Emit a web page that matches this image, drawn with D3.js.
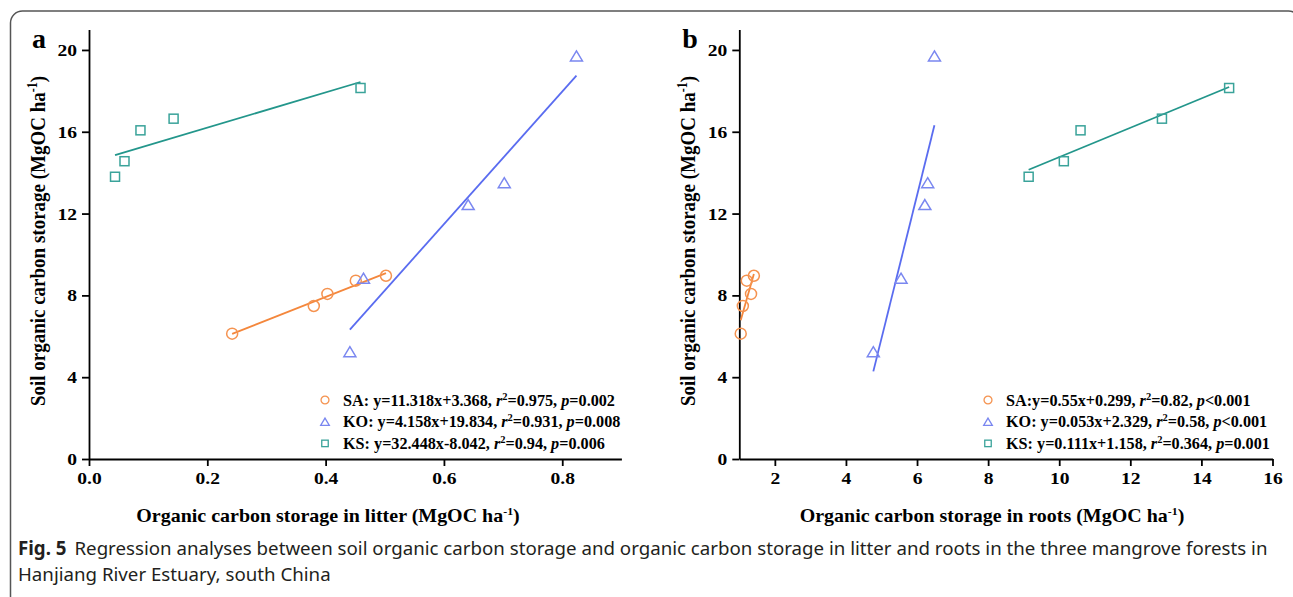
<!DOCTYPE html>
<html>
<head>
<meta charset="utf-8">
<script src="https://cdn.jsdelivr.net/npm/d3@7"></script>
<style>
  body { margin: 0; background: #fff; }
  svg { display: block; }
  .axis path, .axis line { stroke: #000; stroke-width: 1.8; }
  .axis text { font-family: "Liberation Serif", "Times New Roman", serif; font-weight: bold; font-size: 17px; fill: #000; }
  .ttl { font-family: "Liberation Serif", "Times New Roman", serif; font-weight: bold; fill: #000; }
  .leg { font-family: "Liberation Serif", "Times New Roman", serif; font-weight: bold; font-size: 16.2px; fill: #000; }
  .cap { font-family: "Noto Sans", "Open Sans", sans-serif; font-size: 18.7px; fill: #231f20; }
</style>
</head>
<body>
<svg width="1293" height="597"></svg>
<script>
// soil organic C storage (same plots in both panels)
const soilSA = [6.13, 7.48, 8.07, 8.72, 8.96]
const soilKO = [5.25, 8.84, 12.44, 13.51, 19.71]
const soilKS = [13.80, 14.56, 16.07, 16.64, 18.14]
// litter organic C storage
const litterSA = [0.242, 0.380, 0.403, 0.451, 0.502]
const litterKO = [0.441, 0.464, 0.641, 0.702, 0.824]
const litterKS = [0.044, 0.060, 0.087, 0.143, 0.459]
// root organic C storage
const rootSA = [1.04, 1.10, 1.33, 1.21, 1.41]
const rootKO = [4.77, 5.55, 6.22, 6.30, 6.49]
const rootKS = [9.14, 10.13, 10.60, 12.89, 14.78]

const sites = ['SA', 'KO', 'KS']
const yTicks = [0, 4, 8, 12, 16, 20]
const xTicksA = [0, 0.2, 0.4, 0.6, 0.8]
const xTicksB = [2, 4, 6, 8, 10, 12, 14, 16]
const legendA = [
  ['SA: y=11.318x+3.368, ', '0.975', '=0.002'],
  ['KO: y=4.158x+19.834, ', '0.931', '=0.008'],
  ['KS: y=32.448x-8.042, ', '0.94', '=0.006']
]
const legendB = [
  ['SA:y=0.55x+0.299, ', '0.82', '<0.001'],
  ['KO: y=0.053x+2.329, ', '0.58', '<0.001'],
  ['KS: y=0.111x+1.158, ', '0.364', '=0.001']
]

const colors = { SA: '#f4873c', KO: '#5a6cf0', KS: '#23968b' }
const markColors = { SA: '#f59350', KO: '#7a87f0', KS: '#3aa39a' }
const stretch = 1.15   // tick lettering is a little wide
const titleStretch = 1.08

const svg = d3.select('svg')

// figure frame
svg.append('rect')
  .attr('x', 10.5).attr('y', 11).attr('width', 1290).attr('height', 600)
  .attr('rx', 12)
  .attr('fill', 'none').attr('stroke', '#555').attr('stroke-width', 1.5)

const y = d3.scaleLinear().domain([0, 21]).range([459, 29.5])

function fit(xs, ys) {
  const mx = d3.mean(xs), my = d3.mean(ys)
  const b = d3.sum(xs, (v, i) => (v - mx) * (ys[i] - my)) / d3.sum(xs, v => (v - mx) ** 2)
  return v => my + b * (v - mx)
}

function marker(sel, site, s) {
  if (site == 'SA') return sel.append('circle').attr('r', 5.5 * s)
  if (site == 'KO') return sel.append('path').attr('d', `M0,${-5 * s}L${6 * s},${5 * s}L${-6 * s},${5 * s}Z`)
  return sel.append('rect').attr('x', -4.5 * s).attr('y', -4.5 * s).attr('width', 9 * s).attr('height', 9 * s)
}

function panel(opts) {
  const x = d3.scaleLinear().domain(opts.xDomain).range(opts.xRange)
  const g = svg.append('g')

  const xa = g.append('g').attr('class', 'axis')
    .attr('transform', 'translate(0,459)')
    .call(d3.axisBottom(x).tickValues(opts.xTicks).tickSize(7).tickSizeOuter(0).tickPadding(6)
      .tickFormat(opts.xFormat))
  xa.selectAll('text').attr('transform', `scale(${stretch},1)`)
  const ya = g.append('g').attr('class', 'axis')
    .attr('transform', `translate(${opts.xRange[0]},0)`)
    .call(d3.axisLeft(y).tickValues(yTicks).tickSize(7).tickSizeOuter(0).tickPadding(5))
  ya.selectAll('text').attr('transform', `translate(-12,0) scale(${stretch},1) translate(12,0)`)

  sites.forEach((s, k) => {
    const xs = opts.xs[k], ys = opts.ys[k]
    const f = fit(xs, ys)
    const ext = d3.extent(xs)
    g.append('line')
      .attr('x1', x(ext[0])).attr('y1', y(f(ext[0])))
      .attr('x2', x(ext[1])).attr('y2', y(f(ext[1])))
      .attr('stroke', colors[s]).attr('stroke-width', 1.8)
    xs.forEach((v, i) => {
      const m = g.append('g').attr('transform', `translate(${x(v)},${y(ys[i])})`)
      marker(m, s, 1).attr('fill', 'none').attr('stroke', markColors[s]).attr('stroke-width', 1.5)
    })
  })

  // legend
  opts.legend.forEach((row, i) => {
    const ly = 400 + i * 21.7
    const m = g.append('g').attr('transform', `translate(${opts.legX},${ly})`)
    marker(m, sites[i], 0.72).attr('fill', 'none').attr('stroke', markColors[sites[i]]).attr('stroke-width', 1.3)
    const t = g.append('text').attr('class', 'leg').attr('x', opts.legX + 18).attr('y', ly + 5.5)
    t.append('tspan').text(row[0])
    t.append('tspan').attr('font-style', 'italic').text('r')
    t.append('tspan').attr('font-size', '10.5px').attr('dy', -6).text('2')
    t.append('tspan').attr('dy', 6).text('=' + row[1] + ', ')
    t.append('tspan').attr('font-style', 'italic').text('p')
    t.append('tspan').text(row[2])
  })

  // axis titles
  const xt = g.append('text').attr('class', 'ttl').style('font-size', '18.5px').attr('text-anchor', 'middle')
    .attr('transform', `translate(${opts.titleX},522) scale(${titleStretch},1)`)
  xt.append('tspan').text(opts.xTitle + ' (MgOC ha')
  xt.append('tspan').attr('font-size', '11px').attr('dy', -7).text('-1')
  xt.append('tspan').attr('dy', 7).text(')')

  const yt = g.append('text').attr('class', 'ttl').style('font-size', '19px').attr('text-anchor', 'middle')
    .attr('transform', `translate(${opts.xRange[0] - 44},241) scale(${stretch},1) rotate(-90)`)
  yt.append('tspan').text('Soil organic carbon storage (MgOC ha')
  yt.append('tspan').attr('font-size', '12px').attr('dy', -7).text('-1')
  yt.append('tspan').attr('dy', 7).text(')')

  g.append('text').attr('class', 'ttl').style('font-size', '28px')
    .attr('x', opts.xRange[0] - 57).attr('y', 48).text(opts.letter)
}

panel({
  letter: 'a',
  xDomain: [0, 0.9], xRange: [89, 621.4],
  xTicks: xTicksA, xFormat: d3.format('.1f'),
  xs: [litterSA, litterKO, litterKS], ys: [soilSA, soilKO, soilKS],
  legend: legendA, legX: 325,
  xTitle: 'Organic carbon storage in litter', titleX: 328
})

panel({
  letter: 'b',
  xDomain: [1, 16], xRange: [739.3, 1272.5],
  xTicks: xTicksB, xFormat: d3.format('d'),
  xs: [rootSA, rootKO, rootKS], ys: [soilSA, soilKO, soilKS],
  legend: legendB, legX: 988,
  xTitle: 'Organic carbon storage in roots', titleX: 992
})

// caption
const cap = svg.append('text').attr('class', 'cap').attr('x', 18).attr('y', 555)
cap.append('tspan').attr('font-weight', 'bold').text('Fig. 5')
cap.append('tspan').attr('dx', 8).text('Regression analyses between soil organic carbon storage and organic carbon storage in litter and roots in the three mangrove forests in')
svg.append('text').attr('class', 'cap').attr('x', 18).attr('y', 581)
  .text('Hanjiang River Estuary, south China')
</script>
</body>
</html>
